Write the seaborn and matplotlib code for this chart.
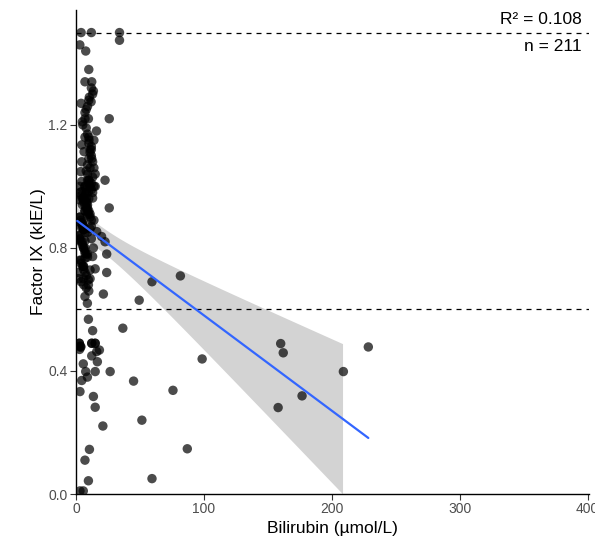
import numpy as np
import pandas as pd
import matplotlib
matplotlib.use("Agg")
import matplotlib.pyplot as plt
import seaborn as sns

# ---- data (x = bilirubin, y = factor IX) ----
# clearly visible points
bilirubin_visible = [
    4, 12, 34, 34,
    3, 7.6, 10, 7, 12.3, 13.6, 10.4, 4, 11.8, 7, 9.7, 26, 5,
    5.3, 7, 10.2, 4.5, 6.3, 12.3, 4.5, 3.7, 4.5, 10.2, 22.7, 3.1, 7, 14, 4.5, 9.7,
    5.7, 13, 2.6, 8.4, 7, 26, 8.9,
    5, 4.5, 11, 16.2, 20, 2.3, 7, 5.8, 13.6, 7, 13, 24, 7, 5.8, 11, 15, 24, 5.8,
    9.7, 9.7, 21.4, 7, 8.9, 22.7,
    9.7, 36.6, 13, 2.6, 3.7, 12.3, 15, 18.3, 16.2, 12.3, 16.7, 5.7, 7.6, 15, 26.7,
    8.9, 4.5, 3.1, 13.6, 15,
    21, 10.5, 7, 9.7, 3.1, 5.7,
    59.4, 81.6, 49.4, 98.6, 45, 75.8, 51.5, 87, 59.4, 160, 162, 158, 176.7, 209, 228.5,
]
factor_ix_visible = [
    1.5, 1.5, 1.5, 1.475,
    1.46, 1.44, 1.38, 1.34, 1.34, 1.31, 1.29, 1.27, 1.275, 1.24, 1.22, 1.22, 1.21,
    1.20, 1.16, 1.15, 1.135, 1.113, 1.09, 1.08, 1.048, 1.016, 1.02, 1.02, 1.0, 1.0, 1.0, 0.983, 0.983,
    0.962, 0.962, 0.956, 0.946, 0.92, 0.93, 0.907,
    0.883, 0.865, 0.862, 0.853, 0.837, 0.826, 0.823, 0.80, 0.80, 0.783, 0.772, 0.78, 0.766, 0.74, 0.728, 0.732, 0.72, 0.70,
    0.696, 0.68, 0.65, 0.642, 0.62, 0.82,
    0.568, 0.539, 0.531, 0.49, 0.477, 0.49, 0.49, 0.468, 0.463, 0.449, 0.43, 0.423, 0.398, 0.398, 0.398,
    0.38, 0.369, 0.333, 0.317, 0.282,
    0.221, 0.145, 0.11, 0.043, 0.01, 0.01,
    0.69, 0.709, 0.63, 0.439, 0.367, 0.337, 0.24, 0.147, 0.05, 0.489, 0.459, 0.281, 0.319, 0.398, 0.478,
]
# points hidden in the solid black (overlapping) part of the cluster, estimated
bilirubin_overlap = [
    8, 9, 10, 11, 12, 13, 14, 15, 9, 10, 11, 12, 13, 8, 9, 10, 11, 12, 14, 16,
    7, 8, 10, 12, 13, 9, 11, 15, 10, 12,
    3, 4, 5, 6, 7, 8, 9, 10, 11, 12, 4, 5, 6, 7, 8, 9, 10, 3,
    5, 6, 7, 8, 9, 11, 4, 6, 8, 10, 5, 7, 3, 4, 6, 9, 12, 14,
    2, 3, 4, 5, 6, 7, 8, 9, 3, 4, 5, 6, 7, 8, 2, 4, 6, 8, 10, 3, 5, 7, 9, 4, 6, 1, 11, 12,
    2.6, 3, 3.7, 2.8, 12.3, 15, 8, 10, 12, 7, 9, 13,
]
factor_ix_overlap = [
    1.19, 1.17, 1.14, 1.12, 1.10, 1.08, 1.06, 1.04, 1.02, 1.01,
    1.00, 0.99, 1.03, 1.05, 1.07, 1.09, 1.11, 1.13, 1.15, 1.18,
    1.00, 0.99, 1.02, 1.01, 0.98, 1.04, 1.06, 1.00, 1.16, 1.12,
    0.98, 0.97, 0.96, 0.95, 0.94, 0.93, 0.92, 0.91, 0.90, 0.89,
    0.88, 0.87, 0.86, 0.85, 0.96, 0.94, 0.92, 0.90,
    0.88, 0.86, 0.97, 0.95, 0.93, 0.91, 0.89, 0.87, 0.98, 0.96, 0.94, 0.92,
    0.90, 0.88, 0.86, 0.85, 0.87, 0.89,
    0.84, 0.83, 0.82, 0.81, 0.80, 0.79, 0.78, 0.77, 0.76, 0.75, 0.74, 0.73, 0.72, 0.71,
    0.70, 0.69, 0.68, 0.67, 0.66, 0.84, 0.82, 0.80, 0.78, 0.76, 0.74, 0.72, 0.70, 0.83,
    0.49, 0.48, 0.48, 0.47, 0.49, 0.49, 1.25, 1.28, 1.32, 1.22, 1.26, 1.30,
]
ref_lines = [1.5, 0.6]
x_ticks = [0, 100, 200, 300, 400]
y_ticks = [0.0, 0.4, 0.8, 1.2]
stats_labels = ["R\u00b2 = 0.108", "n = 211"]

df = pd.DataFrame({"bili": bilirubin_visible + bilirubin_overlap,
                   "f9": factor_ix_visible + factor_ix_overlap})

sns.set_style("white")
plt.rcParams["font.family"] = ["Liberation Sans", "DejaVu Sans"]

fig = plt.figure(figsize=(5.95, 5.45), dpi=100)
ax = fig.add_axes([76 / 595, 51 / 545, (589 - 76) / 595, (494 - 9.5) / 545])

# linear fit with 95% confidence band (band dropped where it leaves the y scale)
x = df["bili"].to_numpy(float)
y = df["f9"].to_numpy(float)
n = len(x)
b1, b0 = np.polyfit(x, y, 1)
resid = y - (b0 + b1 * x)
s = np.sqrt(np.sum(resid ** 2) / (n - 2))
sxx = np.sum((x - x.mean()) ** 2)
xs = np.linspace(x.min(), x.max(), 80)
fit = b0 + b1 * xs
tval = 1.97
se = s * np.sqrt(1 / n + (xs - x.mean()) ** 2 / sxx)
lo, hi = fit - tval * se, fit + tval * se
ok = lo >= 0
ax.fill_between(xs[ok], lo[ok], hi[ok], color="#d3d3d3", lw=0, zorder=1)

sns.scatterplot(data=df, x="bili", y="f9", ax=ax, color="black", alpha=0.7,
                s=46, edgecolor="none", zorder=2)
fit_df = pd.DataFrame({"x": xs, "y": fit})
sns.lineplot(data=fit_df, x="x", y="y", ax=ax, color="#3366FF", lw=1.6, zorder=3)

for v in ref_lines:
    ax.axhline(v, color="black", lw=0.9, ls=(0, (4, 4)), zorder=1.5)

ax.text(395, 1.541, stats_labels[0], ha="right", va="center", fontsize=12.5, color="black")
ax.text(395, 1.454, stats_labels[1], ha="right", va="center", fontsize=12.5, color="black")

ax.set_xlim(0, 401)
ax.set_ylim(0, 1.575)
ax.set_xticks(x_ticks)
ax.set_yticks(y_ticks)
ax.set_xticklabels([str(t) for t in x_ticks])
ax.set_yticklabels([f"{t:.1f}" for t in y_ticks])
ax.tick_params(axis="both", which="major", length=4, width=0.8, color="#333333",
               labelsize=10, labelcolor="#4D4D4D", pad=2, bottom=True, left=True)
for side in ["top", "right"]:
    ax.spines[side].set_visible(False)
for side in ["left", "bottom"]:
    ax.spines[side].set_color("black")
    ax.spines[side].set_linewidth(1.0)
ax.set_xlabel("Bilirubin (\u00b5mol/L)", fontsize=12.5, color="black", labelpad=3)
ax.set_ylabel("Factor IX (kIE/L)", fontsize=12.5, color="black", labelpad=2)

fig.savefig("out.png", dpi=100)
